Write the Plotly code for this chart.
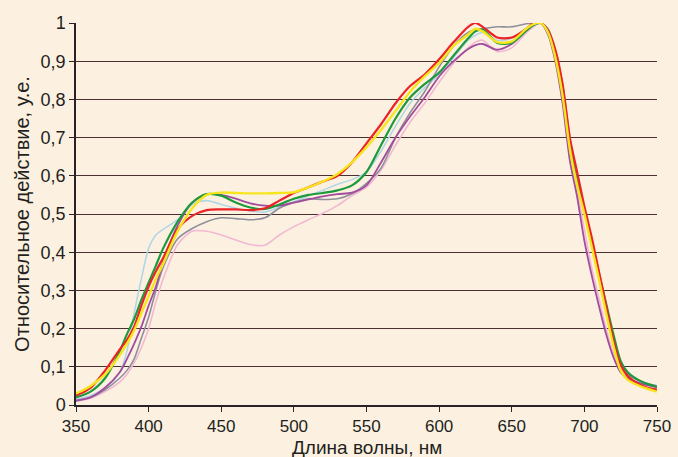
import plotly.graph_objects as go

wavelength = [350, 360, 370, 380, 385, 390, 395, 400, 405, 410,
              420, 430, 440, 450, 460, 470, 480, 490, 500, 510,
              520, 530, 540, 550, 560, 570, 580, 590, 600, 610,
              620, 625, 630, 640, 650, 660, 665, 670, 675, 680,
              685, 690, 695, 700, 705, 710, 715, 720, 725, 730,
              740, 750]

pink = [0.010, 0.018, 0.035, 0.060, 0.080, 0.110, 0.150, 0.200, 0.270, 0.330,
        0.420, 0.455, 0.455, 0.445, 0.432, 0.420, 0.418, 0.445, 0.467, 0.485,
        0.502, 0.522, 0.548, 0.570, 0.615, 0.680, 0.740, 0.790, 0.845, 0.895,
        0.935, 0.950, 0.955, 0.925, 0.935, 0.975, 0.990, 1.000, 0.970, 0.905,
        0.800, 0.660, 0.560, 0.460, 0.360, 0.280, 0.200, 0.135, 0.090, 0.070,
        0.055, 0.045]

light_blue = [0.015, 0.025, 0.045, 0.085, 0.140, 0.240, 0.330, 0.410, 0.445, 0.460,
              0.485, 0.525, 0.535, 0.525, 0.515, 0.508, 0.505, 0.518, 0.532, 0.548,
              0.562, 0.578, 0.590, 0.610, 0.665, 0.730, 0.790, 0.830, 0.865, 0.910,
              0.955, 0.968, 0.975, 0.955, 0.960, 0.985, 0.995, 1.000, 0.980, 0.920,
              0.830, 0.690, 0.585, 0.505, 0.420, 0.335, 0.250, 0.170, 0.110, 0.080,
              0.060, 0.050]

grey = [0.010, 0.020, 0.040, 0.070, 0.090, 0.120, 0.175, 0.230, 0.300, 0.360,
        0.435, 0.462, 0.480, 0.490, 0.488, 0.485, 0.490, 0.515, 0.530, 0.540,
        0.538, 0.540, 0.553, 0.580, 0.620, 0.700, 0.765, 0.820, 0.885, 0.940,
        0.975, 0.982, 0.985, 0.990, 0.990, 0.998, 1.000, 1.000, 0.985, 0.930,
        0.840, 0.700, 0.590, 0.510, 0.430, 0.340, 0.255, 0.175, 0.110, 0.080,
        0.060, 0.050]

purple = [0.012, 0.020, 0.045, 0.085, 0.120, 0.160, 0.205, 0.260, 0.310, 0.375,
          0.470, 0.530, 0.552, 0.550, 0.540, 0.528, 0.522, 0.522, 0.530, 0.538,
          0.546, 0.552, 0.556, 0.575, 0.635, 0.700, 0.755, 0.805, 0.860, 0.900,
          0.932, 0.942, 0.945, 0.930, 0.945, 0.980, 0.995, 1.000, 0.970, 0.900,
          0.790, 0.640, 0.545, 0.430, 0.340, 0.260, 0.185, 0.125, 0.085, 0.070,
          0.055, 0.047]

green = [0.020, 0.035, 0.070, 0.140, 0.185, 0.225, 0.275, 0.320, 0.365, 0.410,
         0.480, 0.530, 0.552, 0.548, 0.530, 0.517, 0.513, 0.525, 0.540, 0.550,
         0.555, 0.562, 0.575, 0.610, 0.680, 0.750, 0.805, 0.840, 0.870, 0.915,
         0.960, 0.978, 0.983, 0.948, 0.948, 0.980, 0.995, 1.000, 0.975, 0.915,
         0.820, 0.680, 0.585, 0.510, 0.430, 0.345, 0.265, 0.185, 0.115, 0.085,
         0.060, 0.047]

red = [0.025, 0.045, 0.090, 0.145, 0.170, 0.205, 0.260, 0.310, 0.350, 0.385,
       0.460, 0.495, 0.510, 0.512, 0.512, 0.510, 0.515, 0.535, 0.555, 0.570,
       0.585, 0.600, 0.635, 0.685, 0.735, 0.790, 0.835, 0.865, 0.905, 0.950,
       0.990, 1.000, 0.990, 0.962, 0.962, 0.985, 1.000, 1.000, 0.980, 0.930,
       0.840, 0.700, 0.610, 0.520, 0.440, 0.350, 0.260, 0.170, 0.105, 0.075,
       0.050, 0.040]

yellow = [0.030, 0.050, 0.080, 0.130, 0.160, 0.195, 0.240, 0.285, 0.330, 0.370,
          0.455, 0.515, 0.550, 0.556, 0.555, 0.554, 0.554, 0.555, 0.557, 0.570,
          0.585, 0.605, 0.635, 0.675, 0.720, 0.770, 0.820, 0.860, 0.895, 0.940,
          0.970, 0.985, 0.978, 0.950, 0.952, 0.985, 0.997, 1.000, 0.975, 0.910,
          0.810, 0.670, 0.575, 0.500, 0.415, 0.330, 0.240, 0.155, 0.090, 0.065,
          0.047, 0.035]

x_ticks = [350, 400, 450, 500, 550, 600, 650, 700, 750]
y_ticks = [0, 0.1, 0.2, 0.3, 0.4, 0.5, 0.6, 0.7, 0.8, 0.9, 1.0]
y_tick_labels = ["0", "0,1", "0,2", "0,3", "0,4", "0,5", "0,6", "0,7", "0,8", "0,9", "1"]
x_title = "Длина волны, нм"
y_title = "Относительное действие, у.е."

series = [
    (pink, "#f2b8d3", 1.6),
    (light_blue, "#b2d6e6", 1.6),
    (grey, "#8f8f9c", 1.6),
    (purple, "#a24c9e", 1.8),
    (green, "#1e9a3c", 2.2),
    (red, "#ec2227", 2.2),
    (yellow, "#f6e51d", 2.4),
]

fig = go.Figure()
for vals, col, w in series:
    fig.add_trace(go.Scatter(x=wavelength, y=vals, mode="lines",
                             line=dict(color=col, width=w, shape="spline", smoothing=0.8),
                             showlegend=False, hoverinfo="skip"))

bg = "#fcf1e1"
font_family = "Liberation Sans, Arial, sans-serif"
fig.update_layout(
    width=678, height=457,
    margin=dict(l=76, r=21, t=23, b=52),
    paper_bgcolor=bg, plot_bgcolor=bg,
    font=dict(family=font_family, color="#231f20"),
)
fig.update_xaxes(
    range=[350, 750], tickvals=x_ticks, ticktext=[str(v) for v in x_ticks],
    showgrid=False, zeroline=False, automargin=False,
    showline=True, linecolor="#2a2226", linewidth=1.5,
    ticks="outside", ticklen=5, tickcolor="#2a2226", tickwidth=1.2,
    tickfont=dict(size=17),
)
fig.update_yaxes(
    range=[0, 1.0], tickvals=y_ticks, ticktext=y_tick_labels,
    showgrid=True, gridcolor="#4a2f33", gridwidth=1.3,
    zeroline=False, automargin=False,
    showline=True, linecolor="#2a2226", linewidth=1.5,
    ticks="outside", ticklen=5, tickcolor="#2a2226", tickwidth=1.2,
    tickfont=dict(size=18),
    title=dict(text=y_title, font=dict(size=20), standoff=6),
)
fig.add_annotation(
    text=x_title, xref="paper", yref="paper", x=0.5, y=-0.112,
    xanchor="center", yanchor="middle", showarrow=False,
    font=dict(size=19, color="#231f20"),
)

fig.write_html(
    "out.html",
    config={"displayModeBar": False},
    post_script="document.body.style.margin='0';document.body.style.background='" + bg + "';",
)
